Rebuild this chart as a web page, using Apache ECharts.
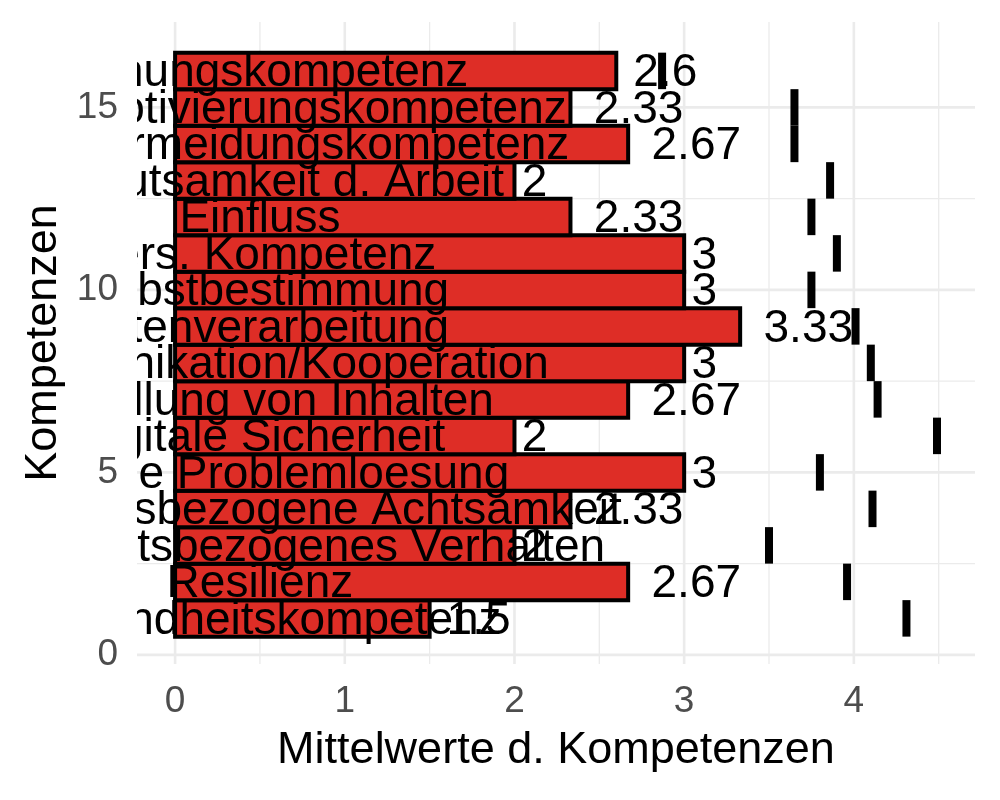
<!DOCTYPE html>
<html><head><meta charset="utf-8">
<script src="https://cdn.jsdelivr.net/npm/echarts@6/dist/echarts.min.js"></script>
<style>html,body{margin:0;padding:0;background:#fff}#chart{width:1000px;height:800px}</style>
</head><body><div id="chart"></div>
<script>
// rows from bottom (1) to top (16)
const positions = [1,2,3,4,5,6,7,8,9,10,11,12,13,14,15,16];
const categories = [
  "Gesundheitskompetenz",
  "Resilienz",
  "Gesundheitsbezogenes Verhalten",
  "Gesundheitsbezogene Achtsamkeit",
  "Digitale Problemloesung",
  "Digitale Sicherheit",
  "Erstellung von Inhalten",
  "Kommunikation/Kooperation",
  "Datenverarbeitung",
  "Selbstbestimmung",
  "Pers. Kompetenz",
  "Einfluss",
  "Bedeutsamkeit d. Arbeit",
  "Stressvermeidungskompetenz",
  "Selbstmotivierungskompetenz",
  "Planungskompetenz"
];
const values = [1.5, 2.67, 2, 2.33, 3, 2, 2.67, 3, 3.33, 3, 3, 2.33, 2, 2.67, 2.33, 2.6];
const valueLabels = ["1.5","2.67","2","2.33","3","2","2.67","3","3.33","3","3","2.33","2","2.67","2.33","2.6"];
const markers = [4.31, 3.96, 3.50, 4.11, 3.80, 4.49, 4.14, 4.10, 4.01, 3.75, 3.90, 3.75, 3.86, 3.65, 3.65, 2.87];
const labelX = 0.5;
const xTicks = [0, 1, 2, 3, 4];
const xMinor = [0.5, 1.5, 2.5, 3.5, 4.5];
const yTicks = [0, 5, 10, 15];
const yMinor = [2.5, 7.5, 12.5];

const FONT = '"Liberation Sans", Arial, Helvetica, sans-serif';
const TXT = 46;
const TXT_DY = 2.5;
const mctx = document.createElement('canvas').getContext('2d');
mctx.font = TXT + 'px ' + FONT;
function textW(s) { return mctx.measureText(s).width; }

function vLine(w) {
  return function (params, api) {
    const x = api.coord([api.value(0), 0])[0];
    const cs = params.coordSys;
    return { type: 'line', shape: { x1: x, y1: cs.y, x2: x, y2: cs.y + cs.height },
      style: { stroke: '#EBEBEB', lineWidth: w } };
  };
}
function hLine(w) {
  return function (params, api) {
    const y = api.coord([0, api.value(1)])[1];
    const cs = params.coordSys;
    return { type: 'line', shape: { x1: cs.x, y1: y, x2: cs.x + cs.width, y2: y },
      style: { stroke: '#EBEBEB', lineWidth: w } };
  };
}

const chart = echarts.init(document.getElementById('chart'));
chart.setOption({
  animation: false,
  backgroundColor: '#fff',
  textStyle: { fontFamily: FONT },
  grid: { left: 137, right: 25, top: 22, bottom: 136 },
  xAxis: {
    type: 'value', min: -0.2245, max: 4.714,
    axisLine: { show: false }, axisTick: { show: false }, splitLine: { show: false },
    axisLabel: { customValues: xTicks, color: '#4D4D4D', fontSize: 37, margin: 19, fontFamily: FONT },
    name: 'Mittelwerte d. Kompetenzen', nameLocation: 'middle', nameGap: 64,
    nameTextStyle: { fontSize: 45, color: '#000', fontFamily: FONT }
  },
  yAxis: {
    type: 'value', min: -0.25, max: 17.34,
    axisLine: { show: false }, axisTick: { show: false }, splitLine: { show: false },
    axisLabel: { customValues: yTicks, color: '#4D4D4D', fontSize: 37, margin: 19, fontFamily: FONT },
    name: 'Kompetenzen', nameLocation: 'middle', nameGap: 69, nameRotate: 90,
    nameTextStyle: { fontSize: 45, color: '#000', fontFamily: FONT }
  },
  series: [
    { type: 'custom', silent: true, z: 0, renderItem: vLine(1.3), data: xMinor.map(v => [v, 0]) },
    { type: 'custom', silent: true, z: 0, renderItem: hLine(1.3), data: yMinor.map(v => [0, v]) },
    { type: 'custom', silent: true, z: 1, renderItem: vLine(2.6), data: xTicks.map(v => [v, 0]) },
    { type: 'custom', silent: true, z: 1, renderItem: hLine(2.6), data: yTicks.map(v => [0, v]) },
    {
      type: 'custom', silent: true, z: 2,
      data: values.map((v, i) => [v, positions[i]]),
      renderItem: function (params, api) {
        const v = api.value(0), y = api.value(1);
        const a = api.coord([0, y + 0.5]), b = api.coord([v, y - 0.5]);
        return { type: 'rect', shape: { x: a[0], y: a[1], width: b[0] - a[0], height: b[1] - a[1] },
          style: { fill: '#DE2D26', stroke: '#000', lineWidth: 4 } };
      }
    },
    {
      type: 'custom', silent: true, z: 3, clip: true,
      data: positions.map(p => [labelX, p]),
      renderItem: function (params, api) {
        const c = api.coord([api.value(0), api.value(1)]);
        return { type: 'text', x: c[0], y: c[1] + TXT_DY,
          style: { text: categories[params.dataIndex], fill: '#000', fontSize: TXT, fontFamily: FONT,
            align: 'center', verticalAlign: 'middle' } };
      }
    },
    {
      type: 'custom', silent: true, z: 4,
      data: values.map((v, i) => [v, positions[i]]),
      renderItem: function (params, api) {
        const c = api.coord([api.value(0), api.value(1)]);
        const s = valueLabels[params.dataIndex];
        return { type: 'text', x: c[0] + 0.25 * textW(s) + 1, y: c[1] + TXT_DY,
          style: { text: s, fill: '#000', fontSize: TXT, fontFamily: FONT,
            align: 'left', verticalAlign: 'middle' } };
      }
    },
    {
      type: 'custom', silent: true, z: 5,
      data: markers.map((m, i) => [m, positions[i]]),
      renderItem: function (params, api) {
        const m = api.value(0), y = api.value(1);
        const a = api.coord([m, y + 0.5]), b = api.coord([m, y - 0.5]);
        return { type: 'rect', shape: { x: a[0] - 4, y: a[1], width: 8, height: b[1] - a[1] },
          style: { fill: '#000' } };
      }
    }
  ]
});
</script>
</body></html>
